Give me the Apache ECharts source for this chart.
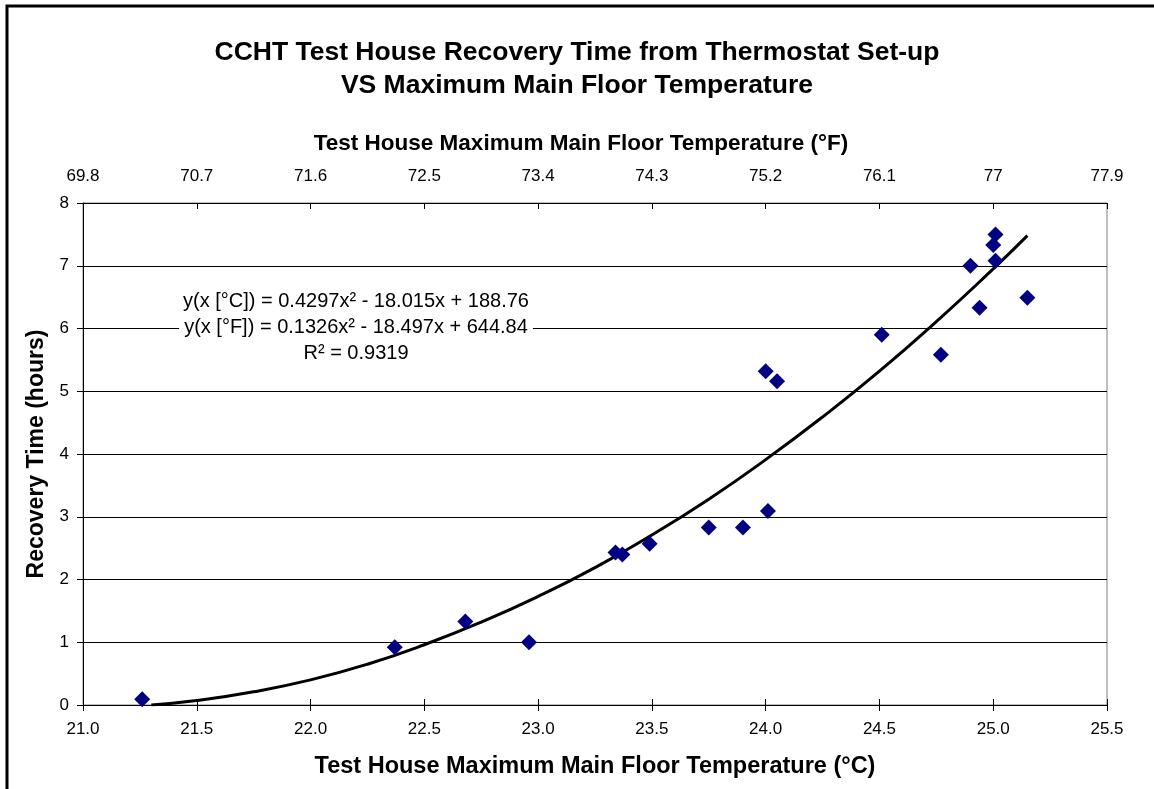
<!DOCTYPE html>
<html>
<head>
<meta charset="utf-8">
<title>CCHT Test House Recovery Time</title>
<script src="https://cdn.jsdelivr.net/npm/echarts@6/dist/echarts.min.js"></script>
<style>
  html, body { margin: 0; padding: 0; background: #fff; }
  #chart { width: 1154px; height: 789px; }
</style>
</head>
<body>
<div id="chart"></div>
<script>
// measured points: max main floor temperature (°C) vs recovery time (h)
const tempC = [21.26, 22.37, 22.68, 22.96, 23.34, 23.37, 23.49, 23.75, 23.90, 24.01,
  24.00, 24.05, 24.51, 24.77, 24.90, 24.94, 25.00, 25.01, 25.01, 25.15]
const recoveryHours = [0.09, 0.92, 1.33, 1.00, 2.43, 2.40, 2.57, 2.83, 2.83, 3.09,
  5.32, 5.16, 5.90, 5.58, 7.00, 6.33, 7.33, 7.50, 7.08, 6.49]

// polynomial trend line
const trendTempC = [21.3, 21.5, 21.75, 22.0, 22.25, 22.5, 22.75, 23.0, 23.25, 23.5,
  23.75, 24.0, 24.25, 24.5, 24.75, 25.0, 25.15]
const trendHours = [0.0, 0.07, 0.21, 0.40, 0.65, 0.96, 1.32, 1.73, 2.19, 2.71,
  3.28, 3.91, 4.59, 5.32, 6.11, 6.95, 7.48]

// top axis tick labels (°F)
const fahrenheitLabels = ['69.8', '70.7', '71.6', '72.5', '73.4', '74.3', '75.2', '76.1', '77', '77.9']

const equationLines = [
  'y(x [°C]) = 0.4297x² - 18.015x + 188.76',
  'y(x [°F]) = 0.1326x² - 18.497x + 644.84',
  'R² = 0.9319'
]

const FONT = 'Liberation Sans, Arial, sans-serif'

const chart = echarts.init(document.getElementById('chart'))

const titleStyle = {
  fontFamily: FONT,
  fontSize: 26.5,
  fontWeight: 'bold',
  color: '#000'
}

const option = {
  backgroundColor: '#fff',
  animation: false,
  title: [
    { text: 'CCHT Test House Recovery Time from Thermostat Set-up', left: 'center', top: 39, padding: 0, textStyle: titleStyle },
    { text: 'VS Maximum Main Floor Temperature', left: 'center', top: 72, padding: 0, textStyle: titleStyle }
  ],
  grid: {
    left: 83,
    right: 47,
    top: 203,
    bottom: 84,
    show: true,
    borderColor: '#808080',
    borderWidth: 1
  },
  xAxis: [
    {
      type: 'value',
      position: 'bottom',
      min: 21,
      max: 25.5,
      interval: 0.5,
      name: 'Test House Maximum Main Floor Temperature (°C)',
      nameLocation: 'middle',
      nameGap: 50,
      nameTextStyle: { fontFamily: FONT, fontSize: 23.5, fontWeight: 'bold', color: '#000' },
      axisLine: { show: true, lineStyle: { color: '#000', width: 1 } },
      axisTick: { show: true, length: 6, lineStyle: { color: '#000' } },
      axisLabel: {
        margin: 16,
        fontFamily: FONT,
        fontSize: 17,
        color: '#000',
        formatter: v => v.toFixed(1)
      },
      splitLine: { show: false }
    },
    {
      type: 'value',
      position: 'top',
      min: 21,
      max: 25.5,
      interval: 0.5,
      name: 'Test House Maximum Main Floor Temperature (°F)',
      nameLocation: 'middle',
      nameGap: 48,
      nameTextStyle: {
        fontFamily: FONT, fontSize: 22.5, fontWeight: 'bold', color: '#000',
        padding: [0, 28, 0, 0]
      },
      axisLine: { show: true, lineStyle: { color: '#000', width: 1 } },
      axisTick: { show: true, length: 6, lineStyle: { color: '#000' } },
      axisLabel: {
        margin: 18,
        fontFamily: FONT,
        fontSize: 17,
        color: '#000',
        formatter: (v, i) => fahrenheitLabels[i]
      },
      splitLine: { show: false }
    },
    {
      // inward half of the crossing ticks on the top axis
      type: 'value',
      position: 'top',
      min: 21,
      max: 25.5,
      interval: 0.5,
      axisLine: { show: false },
      axisTick: { show: true, inside: true, length: 6, lineStyle: { color: '#000' } },
      axisLabel: { show: false },
      splitLine: { show: false }
    }
  ],
  yAxis: [
    {
      type: 'value',
      min: 0,
      max: 8,
      interval: 1,
      name: 'Recovery Time (hours)',
      nameLocation: 'middle',
      nameGap: 34,
      nameTextStyle: { fontFamily: FONT, fontSize: 23, fontWeight: 'bold', color: '#000' },
      axisLine: { show: true, lineStyle: { color: '#000', width: 1 } },
      axisTick: { show: true, length: 6, lineStyle: { color: '#000' } },
      axisLabel: { margin: 14, fontFamily: FONT, fontSize: 17, color: '#000' },
      splitLine: { show: true, lineStyle: { color: '#000', width: 1 } }
    },
    {
      // inward half of the crossing ticks on the left axis
      type: 'value',
      position: 'left',
      min: 0,
      max: 8,
      interval: 1,
      axisLine: { show: false },
      axisTick: { show: true, inside: true, length: 6, lineStyle: { color: '#000' } },
      axisLabel: { show: false },
      splitLine: { show: false }
    }
  ],
  graphic: [
    {
      type: 'rect',
      shape: { x: 7, y: 6, width: 1200, height: 900 },
      style: { fill: 'none', stroke: '#000', lineWidth: 3 },
      silent: true,
      z: 100
    },
    {
      type: 'text',
      x: 356,
      y: 288,
      z: 50,
      style: {
        text: equationLines.join('\n'),
        fontFamily: FONT,
        fontSize: 20,
        lineHeight: 26,
        fill: '#000',
        align: 'center',
        verticalAlign: 'top',
        backgroundColor: '#fff',
        padding: [0, 4]
      }
    }
  ],
  series: [
    {
      name: 'Trend',
      type: 'line',
      xAxisIndex: 0,
      yAxisIndex: 0,
      data: trendTempC.map((x, i) => [x, trendHours[i]]),
      smooth: true,
      showSymbol: false,
      lineStyle: { color: '#000', width: 3 },
      z: 3
    },
    {
      name: 'Recovery time',
      type: 'scatter',
      xAxisIndex: 0,
      yAxisIndex: 0,
      data: tempC.map((x, i) => [x, recoveryHours[i]]),
      symbol: 'diamond',
      symbolSize: 16,
      itemStyle: { color: '#000080', opacity: 1 },
      z: 4
    }
  ]
}

chart.setOption(option)
</script>
</body>
</html>
